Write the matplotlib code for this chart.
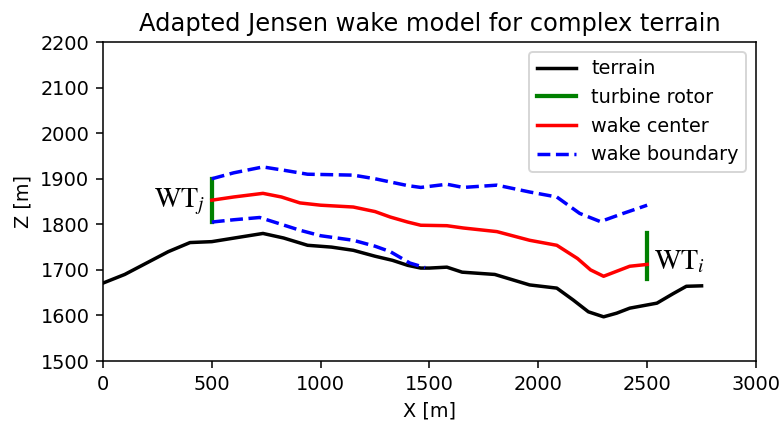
import numpy as np
import matplotlib.pyplot as plt

plt.rcParams['mathtext.fontset'] = 'stix'

# terrain profile
terrain_x = [0, 100, 200, 300, 400, 500, 630, 735, 830, 940, 1050, 1150, 1250, 1330, 1400, 1460,
             1500, 1580, 1650, 1800, 1960, 2085, 2160, 2230, 2300, 2360, 2420, 2545, 2620, 2680, 2750]
terrain_z = [1671, 1690, 1715, 1740, 1760, 1762, 1772, 1780, 1770, 1754, 1750, 1743, 1730, 1721, 1710, 1704,
             1704, 1706, 1695, 1690, 1667, 1660, 1634, 1608, 1597, 1605, 1616, 1627, 1648, 1664, 1665]

# wake center
center_x = [500, 600, 735, 820, 905, 1000, 1150, 1250, 1320, 1400, 1460, 1580, 1655, 1810, 1960,
            2085, 2180, 2240, 2300, 2360, 2420, 2500]
center_z = [1853, 1860, 1868, 1860, 1847, 1842, 1838, 1828, 1816, 1805, 1798, 1797, 1792, 1784, 1765,
            1754, 1725, 1700, 1686, 1697, 1708, 1712]

# wake boundary upper / lower
upper_x = [500, 600, 735, 840, 940, 1150, 1250, 1320, 1400, 1460, 1580, 1655, 1810, 1960, 2085,
           2190, 2285, 2390, 2500]
upper_z = [1900, 1913, 1926, 1918, 1910, 1908, 1900, 1893, 1885, 1881, 1888, 1881, 1886, 1871, 1860,
           1824, 1806, 1824, 1842]
lower_x = [500, 600, 720, 800, 905, 1000, 1150, 1250, 1320, 1410, 1480]
lower_z = [1805, 1810, 1815, 1803, 1787, 1775, 1765, 1752, 1740, 1715, 1705]

# turbine rotors (x, z bottom, z top)
wt_j = (500, 1805, 1900)
wt_i = (2500, 1680, 1782)

dpi = 139
fig = plt.figure(figsize=(783 / dpi, 421 / dpi), dpi=dpi)
ax = fig.add_axes([0.1315, 0.1425, 0.834, 0.7575])

ax.plot(terrain_x, terrain_z, color='black', lw=1.8, label='terrain')
ax.plot([wt_j[0], wt_j[0]], [wt_j[1], wt_j[2]], color='green', lw=2.2, label='turbine rotor')
ax.plot([wt_i[0], wt_i[0]], [wt_i[1], wt_i[2]], color='green', lw=2.2)
ax.plot(center_x, center_z, color='red', lw=1.8, label='wake center')
ax.plot(upper_x, upper_z, color='blue', lw=1.8, ls='--', label='wake boundary')
ax.plot(lower_x, lower_z, color='blue', lw=1.8, ls='--')

ax.text(wt_j[0] - 30, 1850, r'$\mathrm{WT}_j$', fontsize=14.5, ha='right', va='center')
ax.text(wt_i[0] + 30, 1718, r'$\mathrm{WT}_i$', fontsize=14.5, ha='left', va='center')

ax.set_xlim(0, 3000)
ax.set_ylim(1500, 2200)
ax.set_xlabel('X [m]')
ax.set_ylabel('Z [m]')
ax.set_title('Adapted Jensen wake model for complex terrain', fontsize=12.5)
ax.legend(loc='upper right')

fig.savefig('out.png', dpi=dpi)
